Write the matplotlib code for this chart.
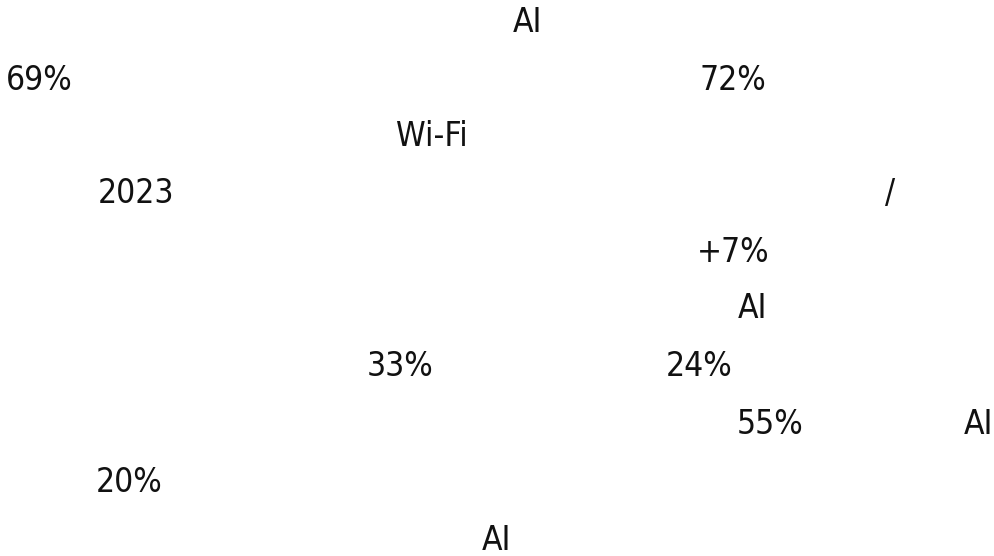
import matplotlib
matplotlib.use("Agg")
import matplotlib.pyplot as plt

# Visible text fragments of the reference, one per line of the paragraph
labels = ["AI", "69%", "72%", "Wi-Fi", "2023", "/", "+7%", "AI",
          "33%", "24%", "55%", "AI", "20%", "AI"]
# left edge (px) and vertical centre (px from top) of each fragment
x_px = [513, 6, 700, 396, 98, 885, 697, 738, 367, 666, 737, 964, 96, 482]
y_px = [22, 80, 80, 137, 193, 193, 252, 308, 366, 366, 425, 425, 482, 540]

W, H = 995, 556

def main():
    plt.rcParams['font.family'] = ['DejaVu Sans']
    fig = plt.figure(figsize=(W / 100, H / 100), dpi=100)
    fig.patch.set_facecolor('white')

    for lab, x, y in zip(labels, x_px, y_px):
        fig.text(x / W, 1 - y / H, lab, ha='left', va='center',
                 fontsize=24, color='#111111', fontweight='light',
                 fontstretch='condensed')

    fig.savefig('out.png', dpi=100, facecolor='white')


if __name__ == "__main__":
    main()
